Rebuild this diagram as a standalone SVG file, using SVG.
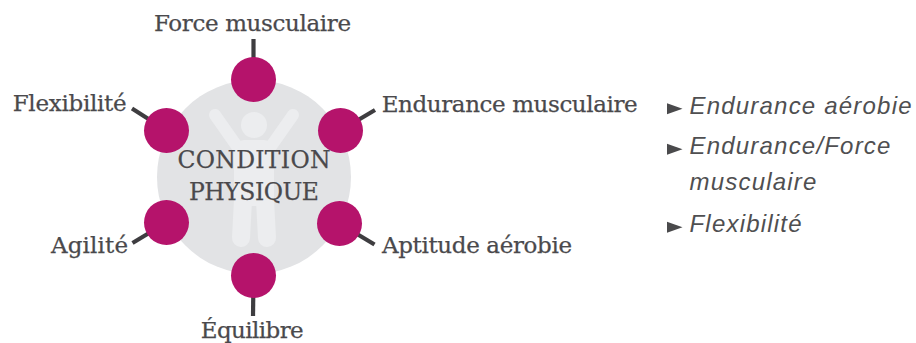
<svg xmlns="http://www.w3.org/2000/svg" xmlns:xlink="http://www.w3.org/1999/xlink" width="916" height="343" viewBox="0 0 916 343">
<style>
.lbl{font-family:"DejaVu Serif","Liberation Serif",serif;font-size:23px;fill:#4a494c;stroke:#4a494c;stroke-width:0.25}
.ctr{font-family:"DejaVu Serif","Liberation Serif",serif;font-size:23.5px;fill:#4a494c;stroke:#4a494c;stroke-width:0.25}
.dot{fill:#b5136b}
.conn{stroke:#3e3d40;stroke-width:4.2;fill:none}
.fig{fill:#ecedef}
.limb{stroke:#ecedef;stroke-linecap:round;fill:none}
.list{font-family:"Liberation Sans",Arial,sans-serif;font-style:italic;font-size:24px;fill:#4f4f51;letter-spacing:1.2px}
.bul{fill:#4a4a4c}
</style>
<defs>
<polygon id="tri" points="0,0 15.5,5.5 0,11"/>
</defs>
<rect width="916" height="343" fill="#ffffff"/>

<g id="hub">
<circle cx="254" cy="177" r="97" fill="#e2e3e5"/>
<g id="figure">
<circle class="fig" cx="254" cy="125" r="13"/>
<line class="limb" x1="241" y1="152" x2="215" y2="115" stroke-width="12"/>
<line class="limb" x1="267" y1="152" x2="293" y2="115" stroke-width="12"/>
<rect class="fig" x="234" y="140" width="40" height="66" rx="10"/>
<line class="limb" x1="243" y1="200" x2="241" y2="238" stroke-width="18"/>
<line class="limb" x1="265" y1="200" x2="267" y2="238" stroke-width="18"/>
</g>
<text class="ctr" x="177.5" y="167.5" textLength="153" lengthAdjust="spacing">CONDITION</text>
<text class="ctr" x="189" y="199.5" textLength="130" lengthAdjust="spacing">PHYSIQUE</text>
</g>

<g id="connectors">
<line class="conn" x1="253.5" y1="79.5" x2="253.5" y2="39"/>
<line class="conn" x1="166.5" y1="130.5" x2="132" y2="108.5"/>
<line class="conn" x1="340.5" y1="130.5" x2="375" y2="110"/>
<line class="conn" x1="166.5" y1="222.5" x2="132.5" y2="243"/>
<line class="conn" x1="339.5" y1="223.5" x2="374.5" y2="244.5"/>
<line class="conn" x1="253.5" y1="275.5" x2="253" y2="316"/>
</g>

<g id="node-force">
<circle class="dot" cx="253.5" cy="79.5" r="22.5"/>
<text class="lbl" x="154" y="31" textLength="197" lengthAdjust="spacing">Force musculaire</text>
</g>
<g id="node-flexibilite">
<circle class="dot" cx="166.5" cy="130.5" r="22.5"/>
<text class="lbl" x="12.7" y="111" textLength="114" lengthAdjust="spacing">Flexibilité</text>
</g>
<g id="node-endurance">
<circle class="dot" cx="340.5" cy="130.5" r="22.5"/>
<text class="lbl" x="381.7" y="111.5" textLength="256" lengthAdjust="spacing">Endurance musculaire</text>
</g>
<g id="node-agilite">
<circle class="dot" cx="166.5" cy="222.5" r="22.5"/>
<text class="lbl" x="51" y="253" textLength="77" lengthAdjust="spacing">Agilité</text>
</g>
<g id="node-aptitude">
<circle class="dot" cx="339.5" cy="223.5" r="22.5"/>
<text class="lbl" x="382" y="253" textLength="190" lengthAdjust="spacing">Aptitude aérobie</text>
</g>
<g id="node-equilibre">
<circle class="dot" cx="253.5" cy="275.5" r="22.5"/>
<text class="lbl" x="200.7" y="337.5" textLength="103" lengthAdjust="spacing">Équilibre</text>
</g>

<g id="list">
<use xlink:href="#tri" href="#tri" class="bul" x="667" y="103.3"/>
<text class="list" x="689.5" y="113.5">Endurance aérobie</text>
<use xlink:href="#tri" href="#tri" class="bul" x="667" y="143.8"/>
<text class="list" x="689.5" y="154">Endurance/Force</text>
<text class="list" x="689.5" y="190">musculaire</text>
<use xlink:href="#tri" href="#tri" class="bul" x="667" y="221.8"/>
<text class="list" x="689.5" y="232">Flexibilité</text>
</g>
</svg>
